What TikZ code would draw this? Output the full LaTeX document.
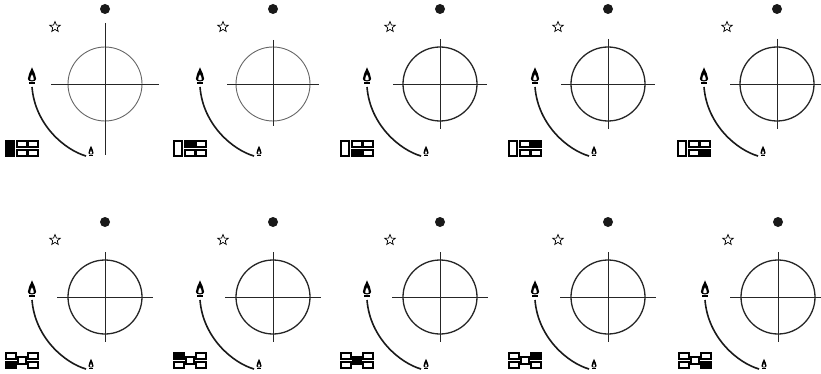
\documentclass[tikz,border=0pt]{standalone}
\usetikzlibrary{shapes.geometric}

\tikzset{
  orbit/.style={line width=1.3pt,draw=black!85},
  thinorbit/.style={line width=0.9pt,draw=black!60},
  axis/.style={line width=0.8pt,draw=black!85},
  burnarc/.style={line width=1.6pt,draw=black!90},
  cell/.style={draw=black,line width=1.2pt,fill=white},
  lit/.style={draw=black,line width=1.2pt,fill=black},
  sun/.style={circle,fill=black!90,inner sep=0pt,minimum size=10pt},
  starmark/.style={star,star points=5,star point ratio=2.3,draw,line width=0.7pt,
    minimum size=11pt,inner sep=0pt}
}

% flame glyph: position, scale
\newcommand{\flame}[2]{%
  \begin{scope}[shift={#1},scale=#2]
    \fill (0,-9) .. controls (1.5,-5) and (3.2,-3) .. (3.2,0) .. controls (3.2,2.5) and (-3.2,2.5) .. (-3.2,0) .. controls (-3.2,-3) and (-1.5,-5) .. (0,-9) -- cycle;
    \fill[white] (0,-3.5) .. controls (1,-1.5) and (1.4,-1) .. (1.4,0.3) .. controls (1.4,1.2) and (-1.4,1.2) .. (-1.4,0.3) .. controls (-1.4,-1) and (-1,-1.5) .. (0,-3.5) -- cycle;
    \fill (-2,2) rectangle (2,4);
  \end{scope}}

% top row switch icon
\newcommand{\gridicon}[5]{%
  \draw[#1] (-99,57) rectangle (-91,72);
  \draw[#2] (-88,57) rectangle (-78,63);
  \draw[#3] (-88,66) rectangle (-78,72);
  \draw[#4] (-77,57) rectangle (-67,63);
  \draw[#5] (-77,66) rectangle (-67,72);}

% bottom row switch icon
\newcommand{\chainicon}[5]{%
  \draw[#1] (-99,56) rectangle (-89,62);
  \draw[#2] (-99,65) rectangle (-89,71);
  \draw[#3] (-87,60) rectangle (-79,67);
  \draw[#4] (-77,56) rectangle (-67,62);
  \draw[#5] (-77,65) rectangle (-67,71);}

% one panel: name, centre, circle style, cross half width, cross up, cross down, icon
\newcommand{\panel}[7]{%
  \begin{scope}[shift={#2}]
    \node[sun] (#1sun) at (0,-75) {};
    \node[starmark] (#1star) at (-50,-57) {};
    \draw[#3] (0,0) circle (37);
    \draw[axis] (-#4,0) -- (#4,0);
    \draw[axis] (0,-#5) -- (0,#6);
    \draw[burnarc] (-73,3) .. controls (-70,41) and (-40,66) .. (-19,72);
    \flame{(-73,-5)}{1.3}
    \flame{(-14,69)}{0.8}
    #7
  \end{scope}}

\begin{document}
\begin{tikzpicture}[x=1pt,y=-1pt]
  \useasboundingbox (0,0) rectangle (821,374);

  \panel{a}{(105,84)}{thinorbit}{54}{61}{71}{\gridicon{lit}{cell}{cell}{cell}{cell}}
  \panel{b}{(273,84)}{thinorbit}{46}{44}{42}{\gridicon{cell}{lit}{cell}{cell}{cell}}
  \panel{c}{(440,84)}{orbit}{47}{45}{45}{\gridicon{cell}{cell}{lit}{cell}{cell}}
  \panel{d}{(608,84)}{orbit}{47}{45}{45}{\gridicon{cell}{cell}{cell}{lit}{cell}}
  \panel{e}{(777,84)}{orbit}{47}{45}{45}{\gridicon{cell}{cell}{cell}{cell}{lit}}

  \panel{f}{(105,297)}{orbit}{48}{45}{45}{\chainicon{cell}{lit}{cell}{cell}{cell}}
  \panel{g}{(273,297)}{orbit}{48}{45}{45}{\chainicon{lit}{cell}{cell}{cell}{cell}}
  \panel{h}{(440,297)}{orbit}{48}{45}{45}{\chainicon{cell}{cell}{lit}{cell}{cell}}
  \panel{i}{(608,297)}{orbit}{48}{45}{45}{\chainicon{cell}{cell}{cell}{lit}{cell}}
  \panel{j}{(778,297)}{orbit}{48}{45}{45}{\chainicon{cell}{cell}{cell}{cell}{lit}}
\end{tikzpicture}
\end{document}
